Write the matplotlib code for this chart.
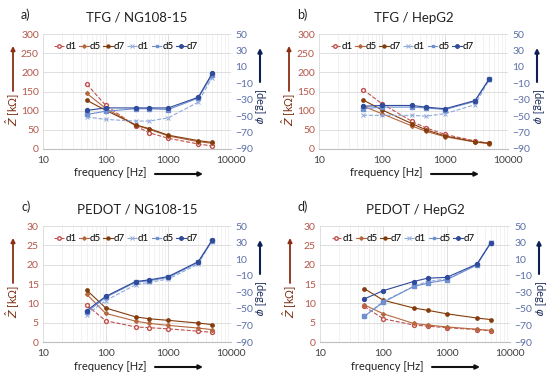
import numpy as np
import matplotlib
matplotlib.use("Agg")
from matplotlib import pyplot as plt

plt.rcParams['font.family'] = ['Lato', 'DejaVu Sans']

freq = [50, 100, 300, 500, 1000, 3000, 5000]
days = ["d1", "d5", "d7"]

# impedance [kOhm] per panel: d1, d5, d7
z_a = [[169, 114, 60, 42, 28, 13, 8],
       [145, 106, 62, 51, 34, 19, 15],
       [127, 101, 63, 53, 36, 22, 17]]
z_b = [[155, 118, 72, 55, 38, 21, 15],
       [112, 92, 60, 46, 32, 18, 14],
       [128, 102, 66, 50, 34, 19, 15]]
z_c = [[9.5, 5.5, 3.9, 3.7, 3.4, 2.8, 2.5],
       [12.3, 7.4, 5.4, 4.8, 4.3, 3.6, 3.2],
       [13.4, 8.8, 6.5, 6.0, 5.6, 4.9, 4.5]]
z_d = [[9.2, 6.0, 4.4, 4.1, 3.7, 3.2, 2.9],
       [9.6, 7.3, 4.8, 4.4, 3.9, 3.3, 3.0],
       [13.8, 10.8, 8.8, 8.2, 7.3, 6.2, 5.8]]

# phase [deg] per panel: d1, d5, d7
p_a = [[-51, -54, -56, -56, -52, -33, -3],
       [-48, -44, -41, -41, -42, -28, 0],
       [-43, -40, -40, -40, -40, -27, 2]]
p_b = [[-49, -49, -49, -50, -47, -36, -6],
       [-41, -39, -39, -40, -42, -32, -5],
       [-38, -37, -37, -39, -41, -31, -5]]
p_c = [[-57, -40, -21, -18, -14, 4, 33],
       [-54, -36, -18, -16, -12, 6, 32],
       [-52, -35, -17, -15, -11, 7, 33]]
p_d = [[-59, -41, -23, -17, -14, 3, 31],
       [-59, -42, -23, -19, -15, 3, 30],
       [-38, -28, -17, -13, -12, 4, 30]]

titles = ["TFG / NG108-15", "TFG / HepG2", "PEDOT / NG108-15", "PEDOT / HepG2"]
letters = ["a)", "b)", "c)", "d)"]
zmax = [300, 300, 30, 30]

brown = ["#C0504D", "#B5683F", "#843C0C"]
blue = ["#8EA9DB", "#6F8FD0", "#2F4B9B"]
z_style = [dict(ls="--", marker="o", mfc="white", ms=2.8),
           dict(ls="-", marker="D", ms=2.0),
           dict(ls="-", marker="o", ms=2.4)]
p_style = [dict(ls="--", marker="x", ms=2.8, mew=0.7),
           dict(ls="-", marker="s", ms=2.3),
           dict(ls="-", marker="o", ms=2.8)]

W, H = 550, 381
# axes boxes in pixels: left, top, right, bottom
boxes = [(43, 34, 231, 149), (319, 34, 508, 149),
         (43, 226, 231, 342), (320, 226, 510, 342)]

fig = plt.figure(figsize=(5.5, 3.81), dpi=100)


def fig_arrow(ax, x0, y0, x1, y1, color, lw):
    # arrow between two pixel positions (top-left origin)
    ax.annotate("", xy=(x1 / W, 1 - y1 / H), xytext=(x0 / W, 1 - y0 / H),
                xycoords="figure fraction", textcoords="figure fraction",
                annotation_clip=False,
                arrowprops=dict(arrowstyle="-|>", color=color, lw=lw,
                                mutation_scale=6, shrinkA=0, shrinkB=0))


for k in range(4):
    l, t, r, b = boxes[k]
    ax = fig.add_axes([l / W, 1 - b / H, (r - l) / W, (b - t) / H])
    ax2 = ax.twinx()
    zs = [z_a, z_b, z_c, z_d][k]
    ps = [p_a, p_b, p_c, p_d][k]
    handles = []
    for i in range(3):
        h, = ax.plot(freq, zs[i], color=brown[i], lw=0.8, mec=brown[i],
                     label=days[i], **z_style[i])
        handles.append(h)
    for i in range(3):
        h, = ax2.plot(freq, ps[i], color=blue[i], lw=0.8, mec=blue[i],
                      label=days[i], **p_style[i])
        handles.append(h)

    ax.set_xscale("log")
    ax.set_xlim(10, 10000)
    ax.set_ylim(0, zmax[k])
    ax.set_yticks(np.linspace(0, zmax[k], 7))
    ax2.set_ylim(-90, 50)
    ax2.set_yticks(np.arange(-90, 51, 20))
    ax.grid(True, which="major", color="#D9D9D9", lw=0.6)
    ax.grid(True, which="minor", axis="x", color="#EDEDED", lw=0.5)
    ax.set_axisbelow(True)
    for sp in ax.spines.values():
        sp.set_visible(False)
    for sp in ax2.spines.values():
        sp.set_visible(False)
    ax.spines["bottom"].set_visible(True)
    ax.spines["bottom"].set_color("#BFBFBF")
    ax.tick_params(axis="x", labelsize=7.5, colors="#404040", length=0, which="both", pad=5)
    ax.tick_params(axis="y", labelsize=7.5, colors="#B5564A", length=0, pad=3)
    ax2.tick_params(axis="y", labelsize=7.5, colors="#5B6FA8", length=0, pad=3)
    ax.set_xticks([10, 100, 1000, 10000])
    ax.set_xticklabels(["10", "100", "1000", "10000"])

    leg = ax2.legend(handles=handles, loc="upper left", ncol=6, frameon=False,
                     fontsize=7, handlelength=1.0, handletextpad=0.1,
                     columnspacing=0.25, bbox_to_anchor=(0.03, 0.98),
                     borderaxespad=0.2, markerscale=0.9)

    # titles and axis texts
    fig.text((l + r) / 2 / W, 1 - (t - 16) / H, titles[k], ha="center", va="center",
             fontsize=9.5, color="#222222")
    fig.text((l - 22) / W, 1 - (t - 19) / H, letters[k], ha="left", va="center",
             fontsize=9, color="#222222")
    fig.text((l + 67) / W, 1 - (b + 24) / H, "frequency [Hz]", ha="center", va="center",
             fontsize=8, color="#222222")
    fig_arrow(ax, l + 112, b + 25, l + 160, b + 25, "#111111", 1.5)
    fig.text((l - 30) / W, 1 - (t + 75) / H, "$\\hat{Z}$ [kΩ]", ha="center", va="center",
             rotation=90, fontsize=8, color="#7A2E14")
    fig_arrow(ax, l - 30, t + 57, l - 30, t + 12, "#8B2E14", 1.3)
    fig.text((r + 29) / W, 1 - (t + 72) / H, "[deg] $\\varphi$", ha="center", va="center",
             rotation=270, fontsize=8, color="#1F2F5F")
    fig_arrow(ax, r + 29, t + 48, r + 29, t + 14, "#0F1F55", 1.5)

plt.savefig("out.png", dpi=100)
